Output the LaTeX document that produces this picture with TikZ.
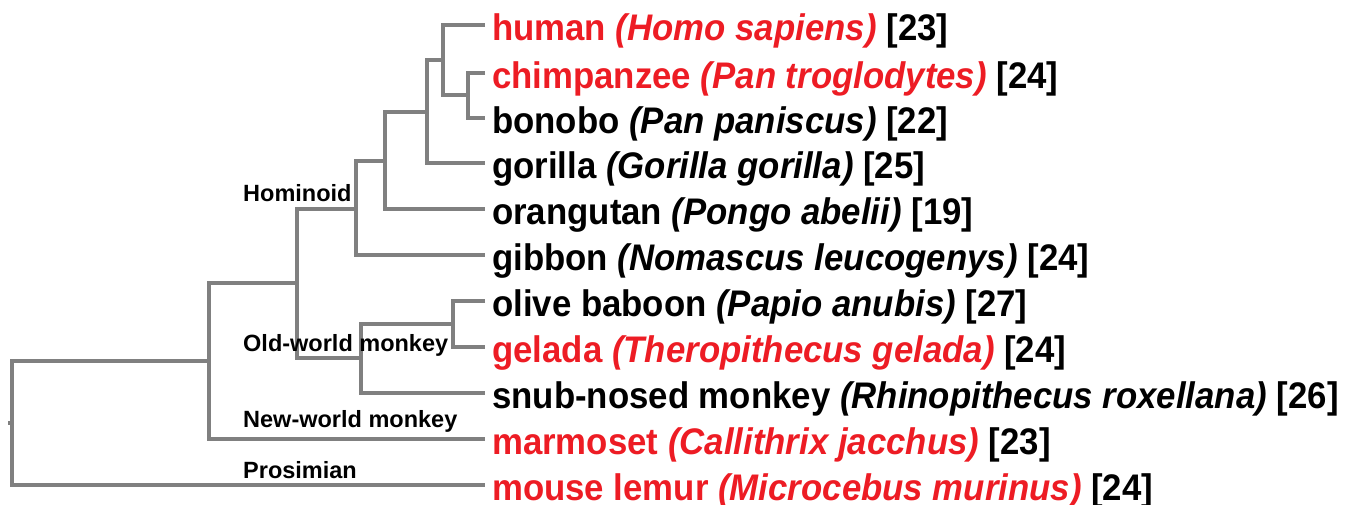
\documentclass[tikz,border=0pt]{standalone}
\usepackage{fontspec}
\setmainfont{Liberation Sans}
\newfontfamily\leaffont[FakeStretch=0.94]{Liberation Sans}
\definecolor{sp}{RGB}{237,28,36}
\definecolor{br}{RGB}{128,128,128}
\begin{document}
\begin{tikzpicture}[x=1pt,y=-1pt,
  branch/.style={draw=br, line width=3.8pt},
  leaf/.style={anchor=base west, inner sep=0pt, font=\leaffont\bfseries\fontsize{37}{40}\selectfont},
  red leaf/.style={leaf, text=sp},
  clade/.style={anchor=base west, inner sep=0pt, font=\bfseries\fontsize{23.5}{26}\selectfont}]
\useasboundingbox (0,0) rectangle (1356,504);

% leaf tips
\coordinate (hum) at (485,25);
\coordinate (chi) at (485,73);
\coordinate (bon) at (485,118);
\coordinate (gor) at (485,163);
\coordinate (ora) at (485,209);
\coordinate (gib) at (485,255);
\coordinate (bab) at (485,301);
\coordinate (gel) at (485,347);
\coordinate (snu) at (485,393);
\coordinate (mar) at (485,439);
\coordinate (lem) at (485,485);

% internal nodes
\coordinate (n1) at (468,95);
\coordinate (n2) at (443,60);
\coordinate (n3) at (427,112);
\coordinate (n4) at (385,161);
\coordinate (n5) at (356,209);
\coordinate (n6) at (453,324);
\coordinate (n7) at (361,358);
\coordinate (n8) at (297,283);
\coordinate (n9) at (209,361);
\coordinate (n10) at (12,423);
\coordinate (root) at (8,423);

% branches
\draw[branch] (chi) -- (chi -| n1) -- (bon -| n1) -- (bon);
\draw[branch] (hum) -- (hum -| n2) -- (n1 -| n2) -- (n1);
\draw[branch] (n2) -- (n2 -| n3) -- (gor -| n3) -- (gor);
\draw[branch] (n3) -- (n3 -| n4) -- (ora -| n4) -- (ora);
\draw[branch] (n4) -- (n4 -| n5) -- (gib -| n5) -- (gib);
\draw[branch] (bab) -- (bab -| n6) -- (gel -| n6) -- (gel);
\draw[branch] (n6) -- (n6 -| n7) -- (snu -| n7) -- (snu);
\draw[branch] (n5) -- (n5 -| n8) -- (n7 -| n8) -- (n7);
\draw[branch] (n8) -- (n8 -| n9) -- (mar -| n9) -- (mar);
\draw[branch] (n9) -- (n9 -| n10) -- (lem -| n10) -- (lem);
\draw[branch] (n10) -- (root);

% leaf labels
\node[red leaf] (L-hum) at (492,40) {human \textit{(Homo sapiens)} \textcolor{black}{[23]}};
\node[red leaf] (L-chi) at (492,88) {chimpanzee \textit{(Pan troglodytes)} \textcolor{black}{[24]}};
\node[leaf] (L-bon) at (492,133) {bonobo \textit{(Pan paniscus)} [22]};
\node[leaf] (L-gor) at (492,178) {gorilla \textit{(Gorilla gorilla)} [25]};
\node[leaf] (L-ora) at (492,224) {orangutan \textit{(Pongo abelii)} [19]};
\node[leaf] (L-gib) at (492,270) {gibbon \textit{(Nomascus leucogenys)} [24]};
\node[leaf] (L-bab) at (492,316) {olive baboon \textit{(Papio anubis)} [27]};
\node[red leaf] (L-gel) at (492,362) {gelada \textit{(Theropithecus gelada)} \textcolor{black}{[24]}};
\node[leaf] (L-snu) at (492,408) {snub-nosed monkey \textit{(Rhinopithecus roxellana)} [26]};
\node[red leaf] (L-mar) at (492,454) {marmoset \textit{(Callithrix jacchus)} \textcolor{black}{[23]}};
\node[red leaf] (L-lem) at (492,500) {mouse lemur \textit{(Microcebus murinus)} \textcolor{black}{[24]}};

% clade labels
\node[clade] (c-hom) at (243,201) {Hominoid};
\node[clade] (c-owm) at (243,351) {Old-world monkey};
\node[clade] (c-nwm) at (243,427) {New-world monkey};
\node[clade] (c-pro) at (243,478) {Prosimian};
\end{tikzpicture}
\end{document}
